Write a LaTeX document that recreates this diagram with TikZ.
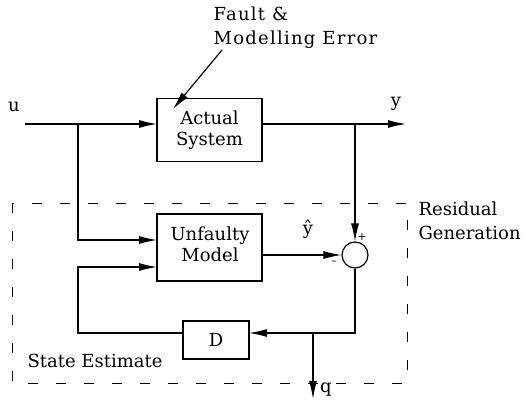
\documentclass[tikz,border=0pt]{standalone}
\usepackage{fontspec}
\setmainfont{DejaVu Serif}
\newfontfamily\widefont[LetterSpace=7]{DejaVu Serif}
\usetikzlibrary{arrows.meta}
\begin{document}
\begin{tikzpicture}[x=1pt,y=-1pt,
  line width=1.2pt,
  lbl/.style={font=\fontsize{18}{21}\selectfont, inner sep=0pt},
  blk/.style={draw, line width=1.2pt, inner sep=0pt, font=\fontsize{18}{21}\selectfont, align=center},
  arr/.style={-{Latex[length=18pt,width=8pt]}},
  sgn/.style={font=\fontsize{11}{11}\selectfont, inner sep=0pt}]
\useasboundingbox (0,0) rectangle (526,414);
% blocks
\node[blk, minimum width=105pt, minimum height=63pt] (sys) at (209.5,130) {Actual\\System};
\node[blk, minimum width=105pt, minimum height=67pt] (mod) at (209.5,247.5) {};
\node[lbl, align=center] (modtxt) at (210,244) {Unfaulty\\Model};
\node[blk, minimum width=66pt, minimum height=38pt] (D) at (216,340) {D};
\node[draw, circle, minimum size=26pt, inner sep=0pt, line width=1.2pt] (sum) at (355,255) {};
% labels
\node[lbl, anchor=base west, font=\widefont\fontsize{18}{21}\selectfont] (fault1) at (213,21) {Fault \&};
\node[lbl, anchor=base west, font=\widefont\fontsize{18}{21}\selectfont] (fault2) at (213,45) {Modelling Error};
\node[lbl] (ul) at (14,107) {u};
\node[lbl] (yl) at (396,104) {y};
\node[lbl] (yhat) at (308,229) {ŷ};
\node[lbl] (ql) at (326,390) {q};
\node[lbl, anchor=base west] (res1) at (418,215) {Residual};
\node[lbl, anchor=base west] (res2) at (418,239) {Generation};
\node[lbl, anchor=base west] (stl) at (27,367) {State Estimate};
\node[sgn] (plus) at (362,237) {+};
\node[sgn] (minus) at (334,263) {–};
% coordinates
\coordinate (uin) at (25,124);
\coordinate (bu) at (78,124);
\coordinate (sysin) at (157,124);
\coordinate (sysout) at (262,124);
\coordinate (by) at (355,124);
\coordinate (yout) at (406,124);
\coordinate (modin1) at (157,240);
\coordinate (modin2) at (157,267);
\coordinate (modout) at (262,255);
\coordinate (Dout) at (249,333);
\coordinate (Din) at (183,333);
\coordinate (bq) at (313,333);
\coordinate (qout) at (313,399);
\coordinate (fs) at (222,50);
\coordinate (fe) at (173,109);
% connectors
\draw[arr] (uin) -- (sysin);
\draw[arr] (bu) |- (modin1);
\draw[arr] (sysout) -- (yout);
\draw[arr] (by) -- (sum.north);
\draw[arr] (modout) -- (sum.west);
\draw[arr] (sum.south) |- (Dout);
\draw[arr] (Din) -| (78,267) -- (modin2);
\draw[arr] (bq) -- (qout);
\draw[arr] (fs) -- (fe);
% dashed frame
\draw[line width=1pt, dash pattern=on 10pt off 18pt] (12,203) rectangle (407,383);
\end{tikzpicture}
\end{document}
